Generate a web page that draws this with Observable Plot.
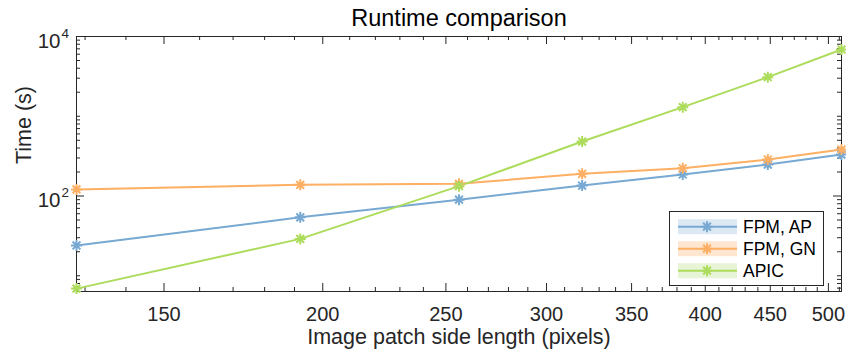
<!DOCTYPE html>
<html><head><meta charset="utf-8">
<script src="https://cdn.jsdelivr.net/npm/d3@7"></script>
<script src="https://cdn.jsdelivr.net/npm/@observablehq/plot@0.6"></script>
<style>
html,body{margin:0;padding:0;background:#fff;}
#chart{position:relative;width:846px;height:352px;font-family:"Liberation Sans",Arial,Helvetica,sans-serif;}
#chart svg{display:block;}
#legend{position:absolute;left:669px;top:211px;}
</style></head><body><div id="chart"></div>
<script>
// ---- data ----
const sizes = [128, 192, 256, 320, 384, 448, 512];
const fpmAP = [24, 54, 90, 135, 186, 248, 331];
const fpmGN = [121, 138, 142, 190, 223, 287, 383];
const apic  = [6.9, 29, 133, 482, 1300, 3090, 6870];
const seriesNames = ["FPM, AP", "FPM, GN", "APIC"];
const seriesValues = [fpmAP, fpmGN, apic];
const seriesColors = ["#77a9d3", "#fdaf63", "#addc5c"];
const bandColors = ["#dce9f4", "#fee6d0", "#e7f4d6"];
const xMajorTicks = [150, 200, 250, 300, 350, 400, 450, 500];
const xMinorTicks = [130,140,160,170,180,190,210,220,230,240,260,270,280,290,310,320,330,340,360,370,380,390,410,420,430,440,460,470,480,490,510];
const yMajorTicks = [100, 10000];
const yTickExponents = ["2", "4"];
const yMinorTicks = [7,8,9,10,20,30,40,50,60,70,80,90,200,300,400,500,600,700,800,900,1000,2000,3000,4000,5000,6000,7000,8000,9000];
const titleText = "Runtime comparison";
const xLabel = "Image patch side length (pixels)";
const yLabel = "Time (s)";

const rows = [];
seriesNames.forEach((name, k) => sizes.forEach((s, i) => rows.push({series: name, size: s, time: seriesValues[k][i]})));

// ---- layout ----
const W = 846, H = 352, mL = 76, mR = 5, mT = 36, mB = 61;
const innerW = W - mL - mR, innerH = H - mT - mB;
const axisColor = "#262626";
const majorLen = 8, minorLen = 4;

const asterisk = {
  draw(context, size) {
    const r = Math.sqrt(size / Math.PI);
    const d = r * Math.SQRT1_2;
    context.moveTo(0, -r); context.lineTo(0, r);
    context.moveTo(-r, 0); context.lineTo(r, 0);
    context.moveTo(-d, -d); context.lineTo(d, d);
    context.moveTo(-d, d); context.lineTo(d, -d);
  }
};

const tickStyle = {stroke: axisColor, strokeWidth: 1};

const plot = Plot.plot({
  width: W, height: H,
  marginLeft: mL, marginRight: mR, marginTop: mT, marginBottom: mB,
  style: {fontFamily: '"Liberation Sans", Arial, Helvetica, sans-serif', background: "#fff", overflow: "visible"},
  x: {type: "log", domain: [128, 512], axis: null},
  y: {type: "log", domain: [6.35, 10000], axis: null},
  color: {domain: seriesNames, range: seriesColors},
  marks: [
    Plot.frame({stroke: axisColor, strokeWidth: 1}),
    // x ticks bottom/top (inward)
    Plot.ruleX(xMajorTicks, {x: d => d, insetTop: innerH - majorLen, ...tickStyle}),
    Plot.ruleX(xMinorTicks, {x: d => d, insetTop: innerH - minorLen, ...tickStyle}),
    Plot.ruleX(xMajorTicks, {x: d => d, insetBottom: innerH - majorLen, ...tickStyle}),
    Plot.ruleX(xMinorTicks, {x: d => d, insetBottom: innerH - minorLen, ...tickStyle}),
    // y ticks left/right (inward)
    Plot.ruleY(yMajorTicks, {y: d => d, insetRight: innerW - majorLen, ...tickStyle}),
    Plot.ruleY(yMinorTicks, {y: d => d, insetRight: innerW - minorLen, ...tickStyle}),
    Plot.ruleY(yMajorTicks, {y: d => d, insetLeft: innerW - majorLen, ...tickStyle}),
    Plot.ruleY(yMinorTicks, {y: d => d, insetLeft: innerW - minorLen, ...tickStyle}),
    // x tick labels
    Plot.text(xMajorTicks, {x: d => d, text: d => String(d), frameAnchor: "bottom", dy: 15, lineAnchor: "top", fontSize: 20, fill: axisColor}),
    // y tick labels 10^k
    Plot.text(yMajorTicks, {y: d => d, text: () => "10", frameAnchor: "left", textAnchor: "end", dx: -16, dy: 11, lineAnchor: "bottom", fontSize: 20.5, fill: axisColor}),
    Plot.text(yMajorTicks, {y: d => d, text: (d, i) => yTickExponents[i], frameAnchor: "left", textAnchor: "start", dx: -15, dy: 1, lineAnchor: "bottom", fontSize: 13.5, fill: axisColor}),
    // data
    Plot.line(rows, {x: "size", y: "time", z: "series", stroke: "series", strokeWidth: 2, clip: false}),
    Plot.dot(rows, {x: "size", y: "time", stroke: "series", symbol: asterisk, r: 5.5, strokeWidth: 2}),
    // labels
    Plot.text([titleText], {text: d => d, frameAnchor: "top", dy: -11, lineAnchor: "bottom", fontSize: 23.5, fill: "#000"}),
    Plot.text([xLabel], {text: d => d, frameAnchor: "bottom", dy: 52, lineAnchor: "bottom", fontSize: 21.5, fill: axisColor}),
    Plot.text([yLabel], {text: d => d, frameAnchor: "left", dx: -46, rotate: -90, lineAnchor: "bottom", fontSize: 21.5, fill: axisColor})
  ]
});
const chart = document.getElementById("chart");
chart.appendChild(plot);

// ---- legend (HTML overlay) ----
const lw = 154, lh = 74, rowGap = 22, row0 = 15.7;
const leg = d3.select(chart).append("div").attr("id", "legend")
  .append("svg").attr("width", lw + 1).attr("height", lh + 1);
leg.append("rect").attr("x", 0.5).attr("y", 0.5).attr("width", lw).attr("height", lh)
  .attr("fill", "#fff").attr("stroke", axisColor).attr("stroke-width", 1);
seriesNames.forEach((name, k) => {
  const cy = row0 + k * rowGap;
  const g = leg.append("g");
  g.append("rect").attr("x", 9).attr("y", cy - 7.5).attr("width", 59).attr("height", 15).attr("fill", bandColors[k]);
  g.append("line").attr("x1", 9).attr("x2", 68).attr("y1", cy).attr("y2", cy).attr("stroke", seriesColors[k]).attr("stroke-width", 2);
  const p = d3.path(); asterisk.draw(p, Math.PI * 30);
  g.append("path").attr("d", p.toString()).attr("transform", `translate(38,${cy})`).attr("stroke", seriesColors[k]).attr("stroke-width", 2).attr("fill", "none");
  g.append("text").attr("x", 74).attr("y", cy).attr("dy", "0.35em").attr("font-size", 17.5)
    .attr("font-family", '"Liberation Sans", Arial, Helvetica, sans-serif').attr("fill", "#000").text(name);
});
</script></body></html>
